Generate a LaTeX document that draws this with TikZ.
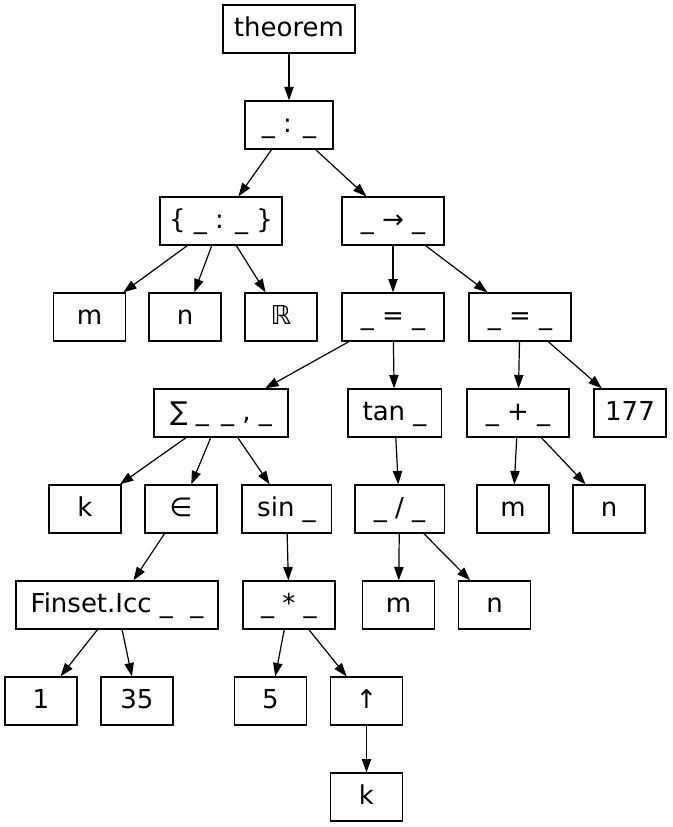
\documentclass[tikz,border=0pt]{standalone}
\usepackage{fontspec}
\setmainfont{DejaVu Sans}
\usetikzlibrary{arrows.meta}

\begin{document}
\begin{tikzpicture}[x=0.75pt, y=-0.75pt,
    box/.style={draw, rectangle, text centered, line width=1pt, minimum height=36pt, minimum width=54pt, inner sep=0pt, text height=14.8pt, text depth=3.8pt, font=\fontsize{19.5}{22}\selectfont},
    edge/.style={-{Triangle[length=10pt, width=7pt]}, line width=0.9pt}]

    \useasboundingbox (0,0) rectangle (673,827);

    % Nodes for the top of the tree
    \node (theorem) [box, minimum width=99pt] at (289,29) {theorem};
    \node (colon) [box, minimum width=66pt] at (289,125) {\_ : \_};
    \node (setof) [box, minimum width=91.5pt] at (221,221) {\{ \_ : \_ \}};
    \node (impl) [box, minimum width=76.5pt] at (393,221) {\_ → \_};

    % Nodes for the third row
    \node (m1) [box] at (89.5,317) {m};
    \node (n1) [box] at (185,317) {n};
    \node (reals) [box] at (281,317) {ℝ};
    \node (eqa) [box, minimum width=76.5pt] at (393,317) {\_ = \_};
    \node (eqb) [box, minimum width=76.5pt] at (520,317) {\_ = \_};

    % Nodes for the fourth row
    \node (sum) [box, minimum width=100.5pt] at (221,413) {∑ \_\hspace{0.15em} \_ , \_};
    \node (tanf) [box, minimum width=70pt] at (394.5,413) {tan \_};
    \node (plus) [box, minimum width=76.5pt] at (518,413) {\_ + \_};
    \node (num177) [box] at (630,413) {177};

    % Nodes for the fifth row
    \node (k1) [box] at (85,509) {k};
    \node (mem) [box] at (181,509) {∈};
    \node (sinf) [box, minimum width=67pt] at (286.5,509) {sin \_};
    \node (divf) [box, minimum width=67pt] at (399.5,509) {\_ / \_};
    \node (m2) [box] at (513,509) {m};
    \node (n2) [box] at (609,509) {n};

    % Nodes for the lower rows
    \node (icc) [box, minimum width=151.5pt] at (117,605) {Finset.Icc \_\hspace{0.35em} \_};
    \node (mul) [box, minimum width=69pt] at (289,605) {\_ * \_};
    \node (m3) [box] at (398.5,605) {m};
    \node (n3) [box] at (494.5,605) {n};
    \node (one) [box] at (41,701) {1};
    \node (thirtyfive) [box] at (137,701) {35};
    \node (five) [box] at (270.5,701) {5};
    \node (pow) [box] at (366.5,701) {↑};
    \node (k2) [box] at (366.5,797) {k};

    % Draw arrows from each node to its children
    \draw[edge] (theorem) -- (colon);
    \draw[edge] (colon) -- (setof);
    \draw[edge] (colon) -- (impl);
    \draw[edge] (setof) -- (m1);
    \draw[edge] (setof) -- (n1);
    \draw[edge] (setof) -- (reals);
    \draw[edge] (impl) -- (eqa);
    \draw[edge] (impl) -- (eqb);
    \draw[edge] (eqa) -- (sum);
    \draw[edge] (eqa) -- (tanf);
    \draw[edge] (eqb) -- (plus);
    \draw[edge] (eqb) -- (num177);
    \draw[edge] (sum) -- (k1);
    \draw[edge] (sum) -- (mem);
    \draw[edge] (sum) -- (sinf);
    \draw[edge] (tanf) -- (divf);
    \draw[edge] (plus) -- (m2);
    \draw[edge] (plus) -- (n2);
    \draw[edge] (mem) -- (icc);
    \draw[edge] (sinf) -- (mul);
    \draw[edge] (divf) -- (m3);
    \draw[edge] (divf) -- (n3);
    \draw[edge] (icc) -- (one);
    \draw[edge] (icc) -- (thirtyfive);
    \draw[edge] (mul) -- (five);
    \draw[edge] (mul) -- (pow);
    \draw[edge] (pow) -- (k2);

\end{tikzpicture}
\end{document}
